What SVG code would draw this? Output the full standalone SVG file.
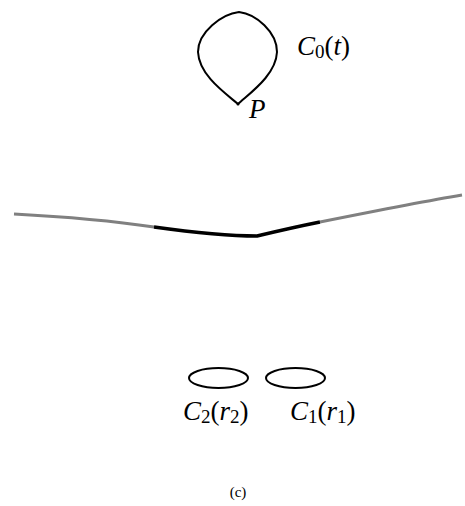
<svg xmlns="http://www.w3.org/2000/svg" width="465" height="506" viewBox="0 0 465 506">
<style>
.l{fill:none;stroke:#000;stroke-width:2}
text{font-family:'Liberation Serif','Times New Roman','DejaVu Serif',serif;font-size:27px;fill:#000}
.i{font-style:italic}
.s{font-size:19px}
</style>
<rect width="465" height="506" fill="#fff"/>
<g id="loop">
<path class="l" d="M238,104 C225,93 199,75 198,52 C198,32 222,14 239,12 C256,14 277,32 277,52 C276,75 250,93 238,104 Z"/>
<circle cx="238" cy="104" r="1.5" fill="#000"/>
</g>
<g id="labels-top">
<text font-family="Liberation Serif, serif" x="297" y="55"><tspan class="i">C</tspan><tspan class="s" dy="3">0</tspan><tspan dy="-3">(</tspan><tspan class="i">t</tspan>)</text>
<text font-family="Liberation Serif, serif" class="i" x="249" y="118">P</text>
</g>
<g id="curve">
<path d="M14,214 C70,217 120,222 154,227" fill="none" stroke="#808080" stroke-width="3"/>
<path d="M154,227 C190,232 225,236 257,236 C278,231 300,226 320,222" fill="none" stroke="#000" stroke-width="3.5"/>
<path d="M320,222 C370,212 420,202 462,195" fill="none" stroke="#808080" stroke-width="3"/>
</g>
<g id="c2">
<ellipse class="l" cx="218.5" cy="378" rx="29.5" ry="10"/>
<text font-family="Liberation Serif, serif" x="183" y="420"><tspan class="i">C</tspan><tspan class="s" dy="3">2</tspan><tspan dy="-3">(</tspan><tspan class="i">r</tspan><tspan class="s" dy="3">2</tspan><tspan dy="-3">)</tspan></text>
</g>
<g id="c1">
<ellipse class="l" cx="295.5" cy="378" rx="29.5" ry="10"/>
<text font-family="Liberation Serif, serif" x="290" y="420"><tspan class="i">C</tspan><tspan class="s" dy="3">1</tspan><tspan dy="-3">(</tspan><tspan class="i">r</tspan><tspan class="s" dy="3">1</tspan><tspan dy="-3">)</tspan></text>
</g>
<text font-family="Liberation Serif, serif" x="238" y="497" text-anchor="middle" style="font-size:15px">(c)</text>
</svg>
